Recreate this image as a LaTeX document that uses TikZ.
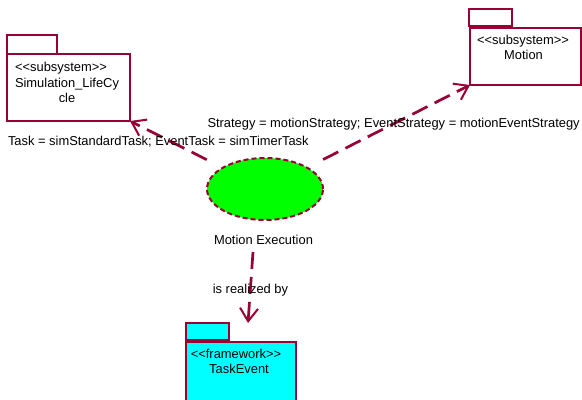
\documentclass[tikz,border=0pt]{standalone}
\usepackage{fontspec}
\setmainfont{Liberation Sans}[Ligatures=TeXOff]
\usetikzlibrary{arrows.meta,shapes.geometric}
\definecolor{rose}{RGB}{153,0,51}
\definecolor{ucgreen}{RGB}{0,255,0}
\definecolor{fwcyan}{RGB}{0,255,255}
\begin{document}
\begin{tikzpicture}[x=1bp,y=-1bp,
  every node/.style={font=\fontsize{12.9bp}{14.7bp}\selectfont, inner sep=0pt, outer sep=0pt},
  pkgbox/.style={draw=rose, line width=2bp, anchor=north west, rectangle},
  txt/.style={text=black},
  usecase/.style={ellipse, draw=rose, fill=ucgreen, line width=2bp, dash pattern=on 5bp off 3bp, minimum width=116bp, minimum height=62bp},
  dep/.style={draw=rose, line width=2.7bp, dash pattern=on 17bp off 8bp,
    -{Straight Barb[length=13bp,width=18bp,line width=2bp]}},
]
\clip (0,0) rectangle (582,399);
\fill[white] (0,0) rectangle (582,399);

% Simulation_LifeCycle package
\node[pkgbox, minimum width=50bp, minimum height=19bp] (lctab) at (7,35) {};
\node[pkgbox, minimum width=123bp, minimum height=67bp] (lc) at (7,54) {};
\node[txt] (lcst) at (61,68.3) {<\kern0pt<subsystem>\kern0pt>};
\node[txt, align=center] (lcname) at (67,90.5) {Simulation\_LifeCy\\cle};

% Motion package
\node[pkgbox, minimum width=43bp, minimum height=17bp] (mtab) at (469.3,8.5) {};
\node[pkgbox, minimum width=111bp, minimum height=57bp] (mo) at (470,28) {};
\node[txt] (most) at (523,40.7) {<\kern0pt<subsystem>\kern0pt>};
\node[txt] (moname) at (523.5,55) {Motion};

% TaskEvent package
\node[pkgbox, fill=fwcyan, minimum width=43bp, minimum height=17bp] (ttab) at (186,323) {};
\node[pkgbox, fill=fwcyan, minimum width=110bp, minimum height=80bp] (te) at (186,341.5) {};
\node[txt] (test) at (236,354) {<\kern0pt<framework>\kern0pt>};
\node[txt] (tename) at (239,369) {TaskEvent};

% Use case
\node[usecase] (uc) at (265,189) {};
\node[txt] (ucname) at (263.5,240) {Motion Execution};

% connectors
\draw[dep, shorten <=18bp] (uc) -- (lc.south east);
\draw[dep, shorten <=18bp] (uc) -- (mo.south west);
\coordinate (d1) at (253,252);
\coordinate (d2) at (248,323);
\draw[dep] (d1) -- (d2);

% labels
\node[txt, anchor=west] (lbl1) at (207.5,124) {Strategy = motionStrategy; EventStrategy = motionEventStrategy};
\node[txt, anchor=west] (lbl2) at (8,141.5) {Task = simStandardTask; EventTask = simTimerTask};
\node[txt] (lbl3) at (250.5,290) {is realized by};
\end{tikzpicture}
\end{document}
